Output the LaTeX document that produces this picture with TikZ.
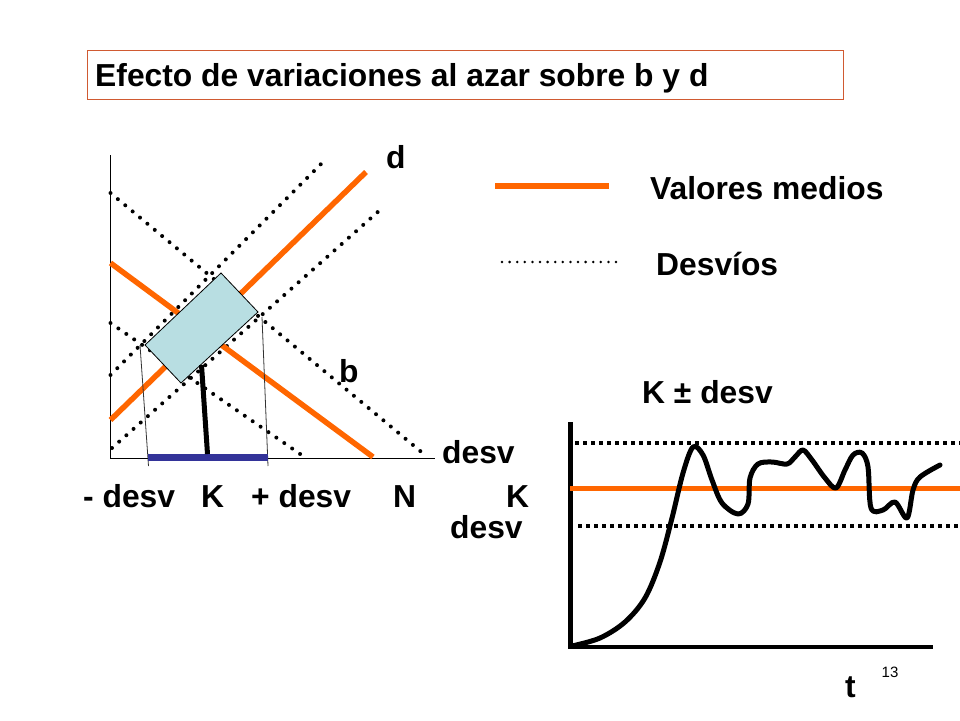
\documentclass[tikz,border=0pt]{standalone}
\usepackage{fontspec}
\setmainfont{Liberation Sans}
\begin{document}
\begin{tikzpicture}[x=1pt,y=-1pt,
  lbl/.style={inner sep=0pt,anchor=base west,font=\fontsize{31.8}{36}\selectfont\bfseries},
  meanline/.style={draw=orangeC,line width=5.5pt},
  devline/.style={line width=4pt,line cap=round,dash pattern=on 0pt off 9.6pt},
  devsq/.style={line width=3.8pt,dash pattern=on 4pt off 4pt},
  thinax/.style={line width=1pt},
  thickax/.style={line width=4.5pt}]
\definecolor{orangeC}{RGB}{255,102,0}
\definecolor{boxred}{RGB}{208,90,50}
\definecolor{lightb}{RGB}{184,222,226}
\definecolor{barblue}{RGB}{51,51,153}
\useasboundingbox (0,0) rectangle (960,720);
\fill[white] (0,0) rectangle (960,720);

% title
\draw[boxred,line width=1pt] (87,50) rectangle (843,99);
\node[lbl] (title) at (95,86) {Efecto de variaciones al azar sobre b y d};

% left plot axes
\coordinate (yt) at (110.5,155);
\coordinate (o) at (110.5,458);
\coordinate (xr) at (435,458);
\draw[thinax] (yt) -- (o) -- (xr);

% dotted deviation lines
\coordinate (du1) at (110.5,375); \coordinate (du2) at (327,158);
\coordinate (dl1) at (112,448);   \coordinate (dl2) at (380,210);
\coordinate (bu1) at (110.5,193); \coordinate (bu2) at (425,455);
\coordinate (bl1) at (110.5,323); \coordinate (bl2) at (303,456);
\draw[devline] (du1) -- (du2);
\draw[devline] (dl1) -- (dl2);
\draw[devline] (bu1) -- (bu2);
\draw[devline] (bl1) -- (bl2);

% mean lines
\coordinate (d1) at (110.5,420); \coordinate (d2) at (366,172);
\coordinate (b1) at (110.5,263); \coordinate (b2) at (373,457);
\draw[meanline] (d1) -- (d2);
\draw[meanline] (b1) -- (b2);

% rectangle
\coordinate (r1) at (145,345);
\coordinate (r2) at (221,273);
\coordinate (r3) at (258,312);
\coordinate (r4) at (181,383);
\draw[fill=lightb,line width=0.8pt] (r1) -- (r2) -- (r3) -- (r4) -- cycle;

% projection lines
\coordinate (p1) at (140,345); \coordinate (p1b) at (148.5,466);
\coordinate (p2) at (262,317); \coordinate (p2b) at (268,466);
\draw[line width=0.8pt,black!80] (p1) -- (p1b);
\draw[line width=0.8pt,black!80] (p2) -- (p2b);

% blue bar and K stick
\coordinate (bb1) at (148,457.5); \coordinate (bb2) at (268,457.5);
\draw[barblue,line width=7pt] (bb1) -- (bb2);
\coordinate (k1) at (207.5,454); \coordinate (k2) at (201.5,365);
\draw[line width=5pt] (k1) -- (k2);

% labels left plot
\node[lbl] (ld) at (386,168) {d};
\node[lbl] (lb) at (339,382) {b};
\node[lbl] (ldesv) at (442,463) {desv};
\node[lbl] (lmd) at (83,507) {- desv};
\node[lbl] (lK) at (201,507) {K};
\node[lbl] (lpd) at (251,507) {+ desv};
\node[lbl] (lN) at (393,507) {N};
\node[lbl] (lK2) at (506,507) {K};
\node[lbl] (ldesv2) at (450,538) {desv};

% legend
\coordinate (lo1) at (495,186); \coordinate (lo2) at (609,186);
\draw[meanline] (lo1) -- (lo2);
\node[lbl] (lvm) at (650,199) {Valores medios};
\coordinate (ld1) at (502,262); \coordinate (ld2) at (617,262);
\draw[line width=2.8pt,line cap=round,dash pattern=on 0pt off 7.6pt] (ld1) -- (ld2);
\node[lbl] (ldv) at (656,275) {Desvíos};

% right plot
\node[lbl] (lkd) at (642,403) {K ± desv};
\coordinate (ry) at (570.5,422);
\coordinate (ro) at (570.5,647);
\coordinate (rx) at (933,647);
\draw[thickax] (ry) -- (570.5,649);
\draw[thickax] (568,647) -- (rx);
\coordinate (up1) at (575,443); \coordinate (up2) at (960,443);
\coordinate (lw1) at (578,526); \coordinate (lw2) at (960,526);
\draw[devsq] (up1) -- (up2);
\draw[devsq] (lw1) -- (lw2);
\coordinate (m1) at (570,488.5); \coordinate (m2) at (960,488.5);
\draw[meanline] (m1) -- (m2);
\draw[line width=5pt,line join=round,line cap=round] plot[smooth,tension=0.55] coordinates {
 (572,646) (600,638) (625,622) (645,598) (660,562) (672,518) (683,473) (693,447)
 (703,455) (712,480) (722,503) (738,514) (748,504) (750,478) (758,464) (772,462)
 (787,464) (795,457) (803,450) (812,460) (825,478) (836,488) (845,470) (853,455)
 (862,453) (868,467) (871,508) (883,510) (895,502) (907,518) (913,490) (920,477) (940,465)};

\node[lbl] (lt) at (845,697) {t};
\node[inner sep=0pt,anchor=base west,font=\fontsize{15}{18}\selectfont] (pg) at (881.5,677) {13};
\end{tikzpicture}
\end{document}
